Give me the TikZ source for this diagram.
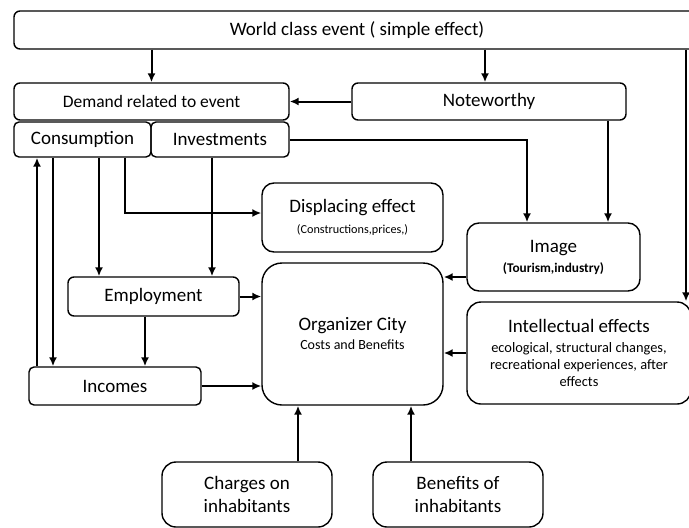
\documentclass[tikz,border=0pt]{standalone}
\usepackage{fontspec}
\setmainfont{Carlito}
\usetikzlibrary{arrows.meta}

\begin{document}
\begin{tikzpicture}[x=1pt, y=-1pt,
    box/.style={draw, line width=1.4pt, rounded corners=6pt, inner sep=0pt, align=center, font=\fontsize{19}{23}\selectfont},
    flow/.style={line width=2pt, -{Latex[length=9pt, width=8pt]}},
    sub/.style={font=\fontsize{#1}{17}\selectfont}]
        \useasboundingbox (0,0) rectangle (689,528);

        \node (world) at (357, 30)[box, minimum width=686, minimum height=38] {World class event ( simple effect)};
        \node (demand) at (151.5, 101.5)[box, minimum width=275, minimum height=37, font=\fontsize{17.5}{21}\selectfont] {Demand related to event};
        \node (noteworthy) at (489, 101.5)[box, minimum width=274, minimum height=37] {Noteworthy};
        \node (consumption) at (82.5, 139.5)[box, rounded corners=5pt, minimum width=137, minimum height=35] {Consumption};
        \node (investments) at (220, 139.5)[box, rounded corners=5pt, minimum width=138, minimum height=35] {Investments};

        \node (displacing) at (352.5, 217.5)[box, rounded corners=12pt, minimum width=181, minimum height=69] {Displacing effect\\[-2pt]{\fontsize{12.2}{15}\selectfont (Constructions,prices,)}};
        \node (image) at (553.5, 257)[box, rounded corners=12pt, minimum width=173, minimum height=68] {Image\\[-3pt]{\fontsize{13.3}{16}\selectfont\bfseries (Tourism,industry)}};
        \node (employment) at (153.5, 296.5)[box, minimum width=171, minimum height=39] {Employment};
        \node (organizer) at (352.5, 334)[box, rounded corners=20pt, minimum width=181, minimum height=142] {Organizer City\\[-4pt]{\fontsize{14}{17}\selectfont Costs and Benefits}};
        \node (intellectual) at (579, 353)[box, rounded corners=14pt, minimum width=224, minimum height=102] {Intellectual effects\\[-3pt]{\fontsize{14.4}{17}\selectfont ecological, structural changes,}\\[-6pt]{\fontsize{14.4}{17}\selectfont recreational experiences, after}\\[-6pt]{\fontsize{14.4}{17}\selectfont effects}};
        \node (incomes) at (115, 386)[box, rounded corners=5pt, minimum width=172, minimum height=38] {Incomes};

        \node (charges) at (247, 494.5)[box, rounded corners=14pt, minimum width=170, minimum height=65] {Charges on\\inhabitants};
        \node (benefits) at (458, 494.5)[box, rounded corners=14pt, minimum width=170, minimum height=65] {Benefits of\\inhabitants};

        \draw[flow] (world.south -| demand.north) -- (demand.north);
        \draw[flow] (485,0 |- world.south) -- (485,0 |- noteworthy.north);
        \draw[flow] (686,0 |- world.south) -- (686,0 |- intellectual.north);
        \draw[flow] (noteworthy.west) -- (demand.east);

        \draw[flow] (investments.east) -| (527,0 |- image.north);
        \draw[flow] (608,0 |- noteworthy.south) -- (608,0 |- image.north);

        \draw[flow] (125,0 |- consumption.south) |- ([yshift=4.5pt]displacing.west);
        \draw[flow] (99,0 |- consumption.south) -- (99,0 |- employment.north);
        \draw[flow] (212,0 |- investments.south) -- (212,0 |- employment.north);
        \draw[flow] (53,0 |- consumption.south) -- (53,0 |- incomes.north);
        \draw[flow] (37,0 |- incomes.north) -- (37,0 |- consumption.south);
        \draw[flow] (145,0 |- employment.south) -- (145,0 |- incomes.north);

        \draw[flow] (employment.east) -- (employment.east -| organizer.west);
        \draw[flow] (incomes.east) -- (incomes.east -| organizer.west);
        \draw[flow] (image.west |- 0,277) -- (organizer.east |- 0,277);
        \draw[flow] (intellectual.west) -- (intellectual.west -| organizer.east);

        \draw[flow] (298,0 |- charges.north) -- (298,0 |- organizer.south);
        \draw[flow] (411,0 |- benefits.north) -- (411,0 |- organizer.south);
    \end{tikzpicture}
\end{document}
